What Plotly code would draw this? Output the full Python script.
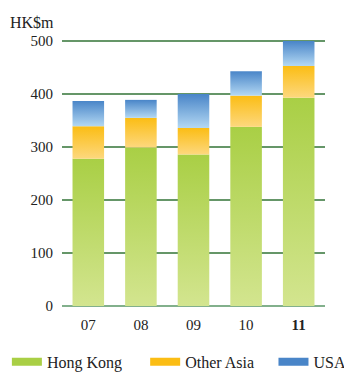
import plotly.graph_objects as go

# Revenue by region, HK$ millions
years = ["07", "08", "09", "10", "11"]
tick_labels = ["07", "08", "09", "10", "<b>11</b>"]
hong_kong = [278, 299, 286, 338, 393]
other_asia = [61, 56, 50, 59, 60]
usa = [48, 34, 64, 46, 47]

series = [
    ("Hong Kong", hong_kong, "#d3e58f", "#a9cf45", "legend"),
    ("Other Asia", other_asia, "#fdd87e", "#fbbd14", "legend2"),
    ("USA", usa, "#b3d8f3", "#4985c8", "legend3"),
]

half_width = 0.3
fig = go.Figure()

base = [0.0] * len(years)
for name, values, light, dark, legend_id in series:
    # one filled rectangle per stacked segment, shaded bottom-to-top
    for i, v in enumerate(values):
        lo, hi = base[i], base[i] + v
        fig.add_trace(go.Scatter(
            x=[i - half_width, i + half_width, i + half_width, i - half_width, i - half_width],
            y=[lo, lo, hi, hi, lo],
            mode="lines",
            line=dict(width=0),
            fill="toself",
            fillcolor=dark,
            fillgradient=dict(type="vertical", colorscale=[[0, light], [1, dark]]),
            name=name,
            legendgroup=name,
            showlegend=False,
            hoverinfo="skip",
        ))
    # solid swatch for the legend entry
    fig.add_trace(go.Scatter(
        x=[None], y=[None],
        mode="lines",
        line=dict(color=dark, width=8),
        name=name,
        legendgroup=name,
        legend=legend_id,
        showlegend=True,
    ))
    base = [b + v for b, v in zip(base, values)]

font_family = "Liberation Serif, Times New Roman, serif"
legend_style = dict(
    orientation="h",
    xref="container", yref="container",
    xanchor="left", yanchor="middle",
    y=0.03,
    font=dict(size=16, family=font_family, color="#222222"),
    bgcolor="rgba(0,0,0,0)",
    itemwidth=30,
)

fig.update_layout(
    width=344,
    height=373,
    margin=dict(l=62, r=19, t=40, b=67, autoexpand=False),
    paper_bgcolor="white",
    plot_bgcolor="white",
    font=dict(family=font_family, size=14, color="#222222"),
    xaxis=dict(
        range=[-0.5, len(years) - 0.5],
        tickmode="array",
        tickvals=list(range(len(years))),
        ticktext=tick_labels,
        showgrid=False,
        zeroline=False,
        showline=False,
        ticks="",
        ticklabelstandoff=8,
        tickfont=dict(size=15),
        fixedrange=True,
    ),
    yaxis=dict(
        range=[0, 502],
        tickvals=[0, 100, 200, 300, 400, 500],
        showgrid=True,
        gridcolor="#659668",
        gridwidth=1.5,
        zeroline=True,
        zerolinecolor="#82b08c",
        zerolinewidth=2,
        showline=False,
        ticks="",
        ticklabelstandoff=8,
        tickfont=dict(size=15),
        fixedrange=True,
        layer="below traces",
    ),
    legend=dict(legend_style, x=0.02),
    legend2=dict(legend_style, x=0.422),
    legend3=dict(legend_style, x=0.795),
    annotations=[dict(
        text="HK$m",
        xref="paper", yref="paper",
        x=-0.205, y=1.025,
        xanchor="left", yanchor="bottom",
        showarrow=False,
        font=dict(size=16),
    )],
)

fig.write_html("out.html")
